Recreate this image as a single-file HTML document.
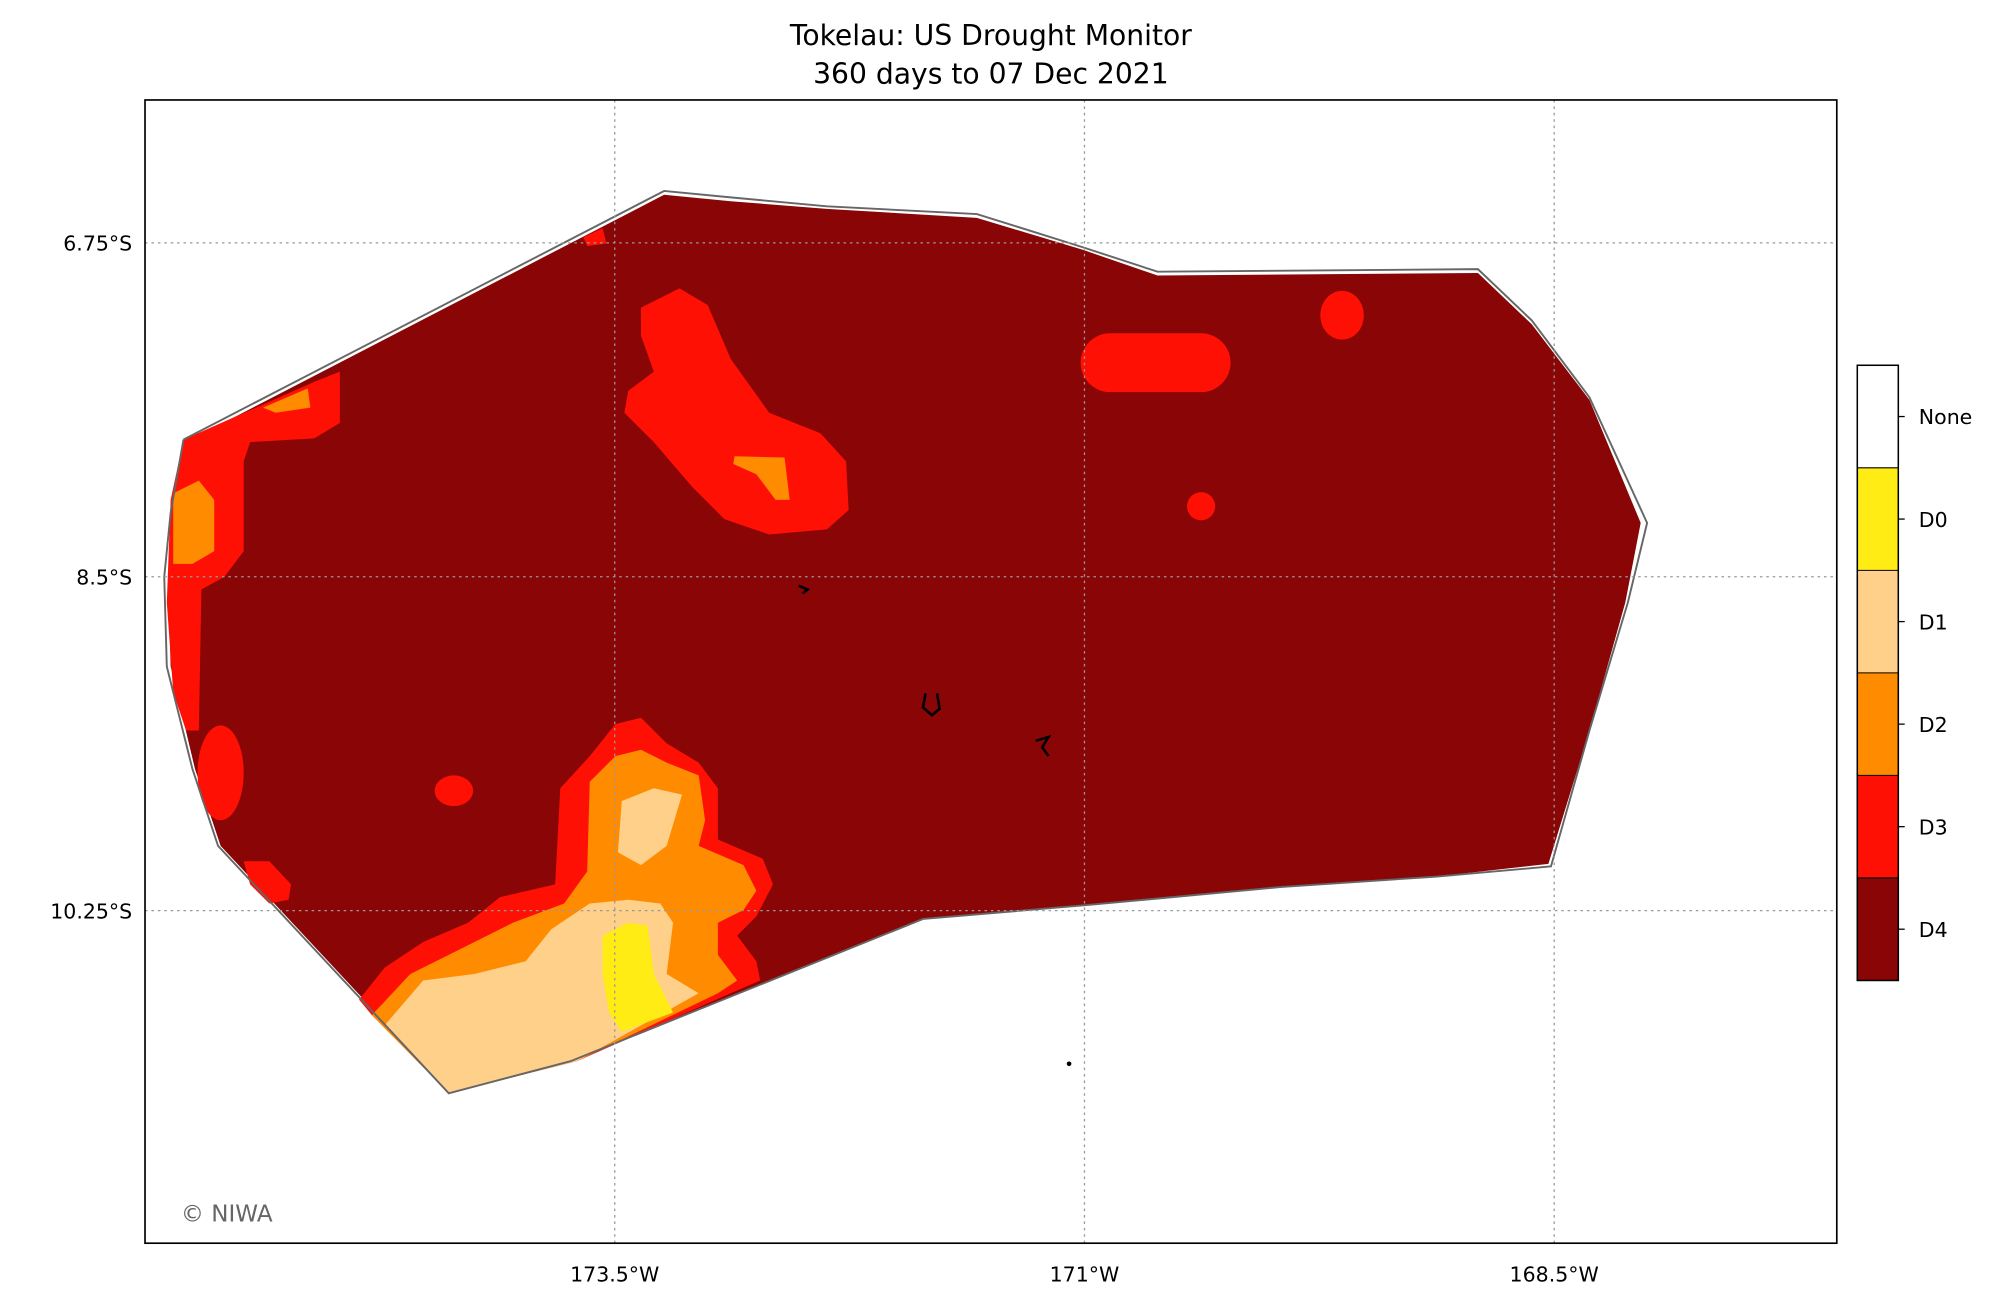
<!DOCTYPE html>
<html><head><meta charset="utf-8"><style>
html,body{margin:0;padding:0;background:#fff;}
svg{display:block;font-family:"DejaVu Sans","Liberation Sans",sans-serif;}
</style></head><body>
<svg id="chart" width="2010" height="1306" viewBox="0 0 1568 1019" xmlns="http://www.w3.org/2000/svg">
<rect width="1568" height="1019" fill="#fff"/>
<text x="773" y="35" font-size="22" text-anchor="middle">Tokelau: US Drought Monitor</text>
<text x="773" y="65" font-size="22" text-anchor="middle">360 days to 07 Dec 2021</text>
<g id="map">
<polygon fill="#8a0505" points="145,345 518,152 570,157 645,163 762,170 845,195 903,215 1153,213 1195,253 1240,312 1280,408 1268,470 1240,570 1208,674 1120,684 1000,692 850,706 720,717 445,828 350,851 172,660 152,600 133,520 131,450 135,400"/>
<polygon fill="#ff1005" points="143,343 245,298 265,290 265,330 245,342 195,345 190,360 190,430 175,450 157,460 155,570 145,570 135,540 130,470 133,390"/>
<polygon fill="#ff8c00" points="135,385 155,375 167,390 167,430 150,440 135,440"/>
<polygon fill="#ff8c00" points="205,318 240,303 242,318 215,322"/>
<polygon fill="#ff1005" points="455,185 470,178 473,190 458,192"/>
<ellipse fill="#ff1005" cx="172" cy="603" rx="18" ry="37"/>
<polygon fill="#ff1005" points="190,672 210,672 227,690 225,702 210,705 195,690"/>
<polygon fill="#ff1005" points="500,240 530,225 552,238 570,280 600,322 640,338 660,360 662,398 645,413 600,417 565,405 540,380 510,345 487,322 490,305 510,290 500,262"/>
<polygon fill="#ff8c00" points="573,356 612,357 616,390 605,390 590,370 572,362"/>
<rect fill="#ff1005" x="843" y="260" width="117" height="46" rx="23"/>
<ellipse fill="#ff1005" cx="1047" cy="246" rx="17" ry="19"/>
<ellipse fill="#ff1005" cx="937" cy="395" rx="11" ry="11"/>
<ellipse fill="#ff1005" cx="354" cy="617" rx="15" ry="12"/>
<polygon fill="#ff1005" points="280,780 300,755 330,735 365,720 390,700 433,690 437,615 460,590 480,565 500,560 520,580 545,595 560,615 560,655 595,670 603,690 590,715 575,730 590,750 593,765 570,775 450,828 350,853 290,792"/>
<polygon fill="#ff8c00" points="290,792 320,760 350,745 400,720 440,705 458,680 460,610 480,590 500,585 520,595 545,605 550,640 545,660 580,675 590,695 580,710 560,720 560,745 575,765 560,775 450,828 350,853"/>
<polygon fill="#ffd08a" points="300,800 330,765 370,760 410,750 430,725 460,705 490,702 515,705 525,720 520,760 545,775 450,828 350,853"/>
<polygon fill="#ffd08a" points="485,625 510,615 532,620 520,660 500,675 482,665"/>
<polygon fill="#ffec14" points="470,730 490,720 505,722 510,760 525,790 485,805 475,790 470,760"/>
<polyline fill="none" stroke="#666" stroke-width="1.5" points="143,343 518,149 570,154 645,161 762,167 845,193 903,212 1153,210 1195,250 1240,310 1285,408 1270,470 1240,570 1210,676 1120,684 1000,692 850,706 720,717 445,828 350,853 170,660 150,600 130,520 128,450 133,400 143,343"/>
<path d="M623,457 L630,460 L626,463" fill="none" stroke="#000" stroke-width="2"/>
<path d="M722,541 L720,552 L727,558 L733,553 L731,541" fill="none" stroke="#000" stroke-width="2"/>
<path d="M808,578 L818,575 L813,583 L818,590" fill="none" stroke="#000" stroke-width="2"/>
<circle cx="834" cy="830" r="1.8" fill="#000"/>
</g>
<g id="grid"></g>
<rect x="113" y="78" width="1320" height="892" fill="none" stroke="#000" stroke-width="1.3"/>
<text x="141" y="953" font-size="18" fill="#666">© NIWA</text>
<g id="axes"></g>
<g id="cbar"></g>
</svg>
<script>
const lonTicks = [173.5, 171, 168.5];
const latTicks = [6.75, 8.5, 10.25];
const categories = ["D4","D3","D2","D1","D0","None"];
const catColors = ["#8a0505","#ff1005","#ff8c00","#ffd08a","#ffec14","#ffffff"];
const NS="http://www.w3.org/2000/svg";
function xOf(lonW){return 846 + (171 - lonW) * (366.5/2.5);}
function yOf(latS){return 450 + (latS - 8.5) * (260.5/1.75);}
function mk(tag,attrs,parent){const e=document.createElementNS(NS,tag);for(const k in attrs)e.setAttribute(k,attrs[k]);parent.appendChild(e);return e;}
const grid=document.getElementById('grid'), axes=document.getElementById('axes'), cbar=document.getElementById('cbar');
lonTicks.forEach(v=>{
  const x=xOf(v);
  const l=mk('line',{x1:x,x2:x,y1:78,y2:970,stroke:'#999','stroke-width':1,'stroke-dasharray':'2,3'},grid);
  
  
  const t=mk('text',{x:x,y:1000,'font-size':16,'text-anchor':'middle'},axes);
  t.textContent=v+'°W';
  
  
});
latTicks.forEach(v=>{
  const y=yOf(v);
  const l=mk('line',{x1:113,x2:1433,y1:y,y2:y,stroke:'#999','stroke-width':1,'stroke-dasharray':'2,3'},grid);
  
  
  const t=mk('text',{x:103,y:y+6,'font-size':16,'text-anchor':'end'},axes);
  t.textContent=v+'°S';
  
  
});
const cbTop=285, cbBot=765, segH=(cbBot-cbTop)/categories.length;
categories.forEach((c,i)=>{
  const y=cbBot-(i+1)*segH;
  const r=mk('rect',{x:1449,y:y,width:32,height:segH,fill:catColors[i]},cbar);
  
  
  const yc=y+segH/2;
  mk('line',{x1:1481,x2:1486,y1:yc,y2:yc,stroke:'#000','stroke-width':1},cbar);
  const t=mk('text',{x:1497,y:yc+6,'font-size':16},cbar);
  t.textContent=c;
  
  
  if(i>0){mk('line',{x1:1449,x2:1481,y1:y+segH,y2:y+segH,stroke:'#000','stroke-width':0.8},cbar);}
});
const f=mk('rect',{x:1449,y:cbTop,width:32,height:cbBot-cbTop,fill:'none',stroke:'#000','stroke-width':1.2},cbar);


</script>
</body></html>
